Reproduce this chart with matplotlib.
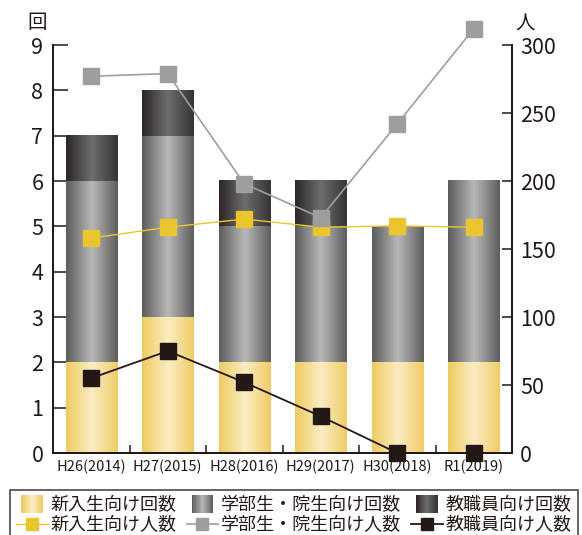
import numpy as np
import matplotlib
matplotlib.use("Agg")
from matplotlib import pyplot as plt
from matplotlib.colors import LinearSegmentedColormap
from matplotlib.legend_handler import HandlerBase
from matplotlib.lines import Line2D
from matplotlib.patches import Rectangle

plt.rcParams['font.family'] = ['Noto Sans CJK JP', 'DejaVu Sans']

years = ["H26(2014)", "H27(2015)", "H28(2016)", "H29(2017)", "H30(2018)", "R1(2019)"]

# sessions (回)
fresh_sessions = [2, 3, 2, 2, 2, 2]
student_sessions = [4, 4, 3, 3, 3, 4]
staff_sessions = [1, 1, 1, 1, 0, 0]

# participants (人)
fresh_people = [158, 166, 172, 166, 167, 166]
student_people = [277, 279, 198, 173, 242, 312]
staff_people = [55, 75, 52, 27, 0, 0]

bar_labels = ["新入生向け回数", "学部生・院生向け回数", "教職員向け回数"]
line_labels = ["新入生向け人数", "学部生・院生向け人数", "教職員向け人数"]

# edge / centre / edge colours for the shaded bars
grad_colors = [
    ["#eecb60", "#fbedc4", "#efcc66"],
    ["#5c5c5c", "#b8b8b8", "#5e5e5e"],
    ["#2c2625", "#6e6e6e", "#363333"],
]
line_colors = ["#eac52e", "#9d9e9d", "#231815"]
line_widths = [1.0, 1.2, 1.3]
ink = '#231815'

cmaps = [LinearSegmentedColormap.from_list("g%d" % i, [c[0], c[1], c[2]])
         for i, c in enumerate(grad_colors)]
ramp = np.linspace(0, 1, 128)[None, :]

fig = plt.figure(figsize=(5.82, 5.35), dpi=100)
ax = fig.add_axes([53 / 582, 1 - 453 / 535, (512 - 53) / 582, (453 - 45) / 535])
ax2 = ax.twinx()

x = np.arange(len(years))
width = 0.67
bottom = np.zeros(len(years))
for vals, cmap in zip([fresh_sessions, student_sessions, staff_sessions], cmaps):
    for xi, b, v in zip(x, bottom, vals):
        if v <= 0:
            continue
        ax.imshow(ramp, cmap=cmap, aspect='auto', interpolation='bilinear',
                  extent=(xi - width / 2, xi + width / 2, b, b + v), zorder=2)
    bottom = bottom + np.array(vals)

ax.set_xlim(-0.5, len(years) - 0.5)
ax.set_ylim(0, 9)
ax2.set_ylim(0, 300)

for vals, c, lw in zip([fresh_people, student_people, staff_people],
                       line_colors, line_widths):
    ax2.plot(x, vals, color=c, lw=lw, marker='s', ms=11.5, mec=c, mfc=c,
             clip_on=False, zorder=3)

for a in (ax, ax2):
    a.spines['top'].set_visible(False)
    for s in ('left', 'right', 'bottom'):
        a.spines[s].set_linewidth(1.3)
        a.spines[s].set_color(ink)
ax.set_yticks(range(0, 10))
ax.tick_params(axis='y', direction='in', length=11, width=1.1, labelsize=15.5,
               pad=7, colors=ink)
ax2.set_yticks(range(0, 301, 50))
ax2.tick_params(axis='y', direction='in', length=7.5, width=1.1, labelsize=15.5,
                pad=6, colors=ink)

# category labels centred, ticks on the dividers
ax.set_xticks(x)
ax.set_xticklabels(years, fontsize=10.5, color=ink)
ax.tick_params(axis='x', length=0, pad=5)
ax.set_xticks(np.arange(0.5, len(years) - 1, 1), minor=True)
ax.tick_params(axis='x', which='minor', direction='in', length=6, width=1.1,
               color=ink)

fig.text(37 / 582, 1 - 22 / 535, "回", fontsize=14, ha='center', va='center', color=ink)
fig.text(525 / 582, 1 - 24 / 535, "人", fontsize=14, ha='center', va='center', color=ink)


class GradientHandler(HandlerBase):
    def __init__(self, cmap, **kw):
        super().__init__(**kw)
        self.cmap = cmap

    def create_artists(self, legend, orig_handle, xdescent, ydescent,
                       width, height, fontsize, trans):
        n = 24
        w = width * 0.68 / n
        x0 = -xdescent + width * 0.16
        y0 = -ydescent + height / 2 - 6.3
        arts = []
        for i in range(n):
            r = Rectangle((x0 + i * w, y0), w * 1.05, 12.6,
                          facecolor=self.cmap(i / (n - 1)), edgecolor='none',
                          transform=trans)
            arts.append(r)
        return arts


bar_handles = [Rectangle((0, 0), 1, 1) for _ in bar_labels]
line_handles = [Line2D([], [], color=c, lw=lw, marker='s', ms=8.5, mfc=c, mec=c)
                for c, lw in zip(line_colors, line_widths)]
handles = []
labels = []
for i in range(3):
    handles += [bar_handles[i], line_handles[i]]
    labels += [bar_labels[i], line_labels[i]]
hmap = {h: GradientHandler(cm) for h, cm in zip(bar_handles, cmaps)}
leg = fig.legend(handles, labels, handler_map=hmap, ncol=3,
                 loc='upper left', bbox_to_anchor=(10 / 582, 1 - 490 / 535),
                 fontsize=13, frameon=True, fancybox=False, edgecolor=ink,
                 handlelength=1.75, handletextpad=0.15, columnspacing=0.55,
                 labelspacing=0.12, borderpad=0.35, borderaxespad=0)
leg.get_frame().set_linewidth(1.2)
for t in leg.get_texts():
    t.set_color(ink)

fig.savefig("out.png", dpi=100)
